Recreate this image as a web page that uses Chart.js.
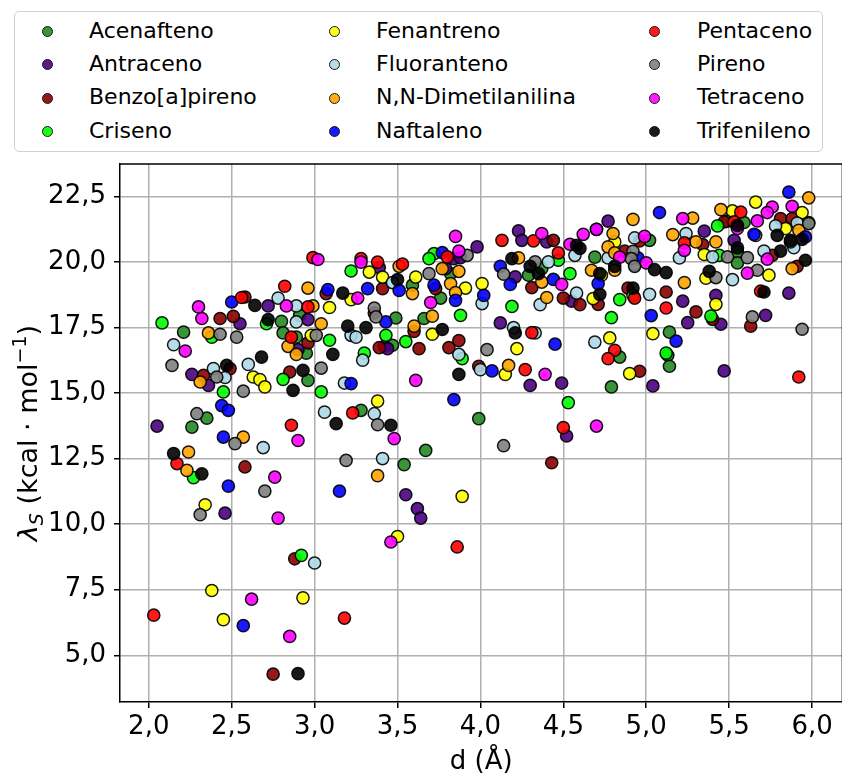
<!DOCTYPE html>
<html>
<head>
  <meta charset="UTF-8" />
  <title>Reorganização vs distância</title>
  <style>
    body { margin: 0; overflow: hidden; background: #fff; font-family: "DejaVu Sans", sans-serif; }
    #wrap { position: absolute; left: 0; top: 0; width: 850px; height: 775px; }
    #legend { position: absolute; left: 14px; top: 11px; width: 809px; height: 141px;
              border: 1.5px solid #d0d0d0; border-radius: 5px; box-sizing: border-box; background: #fff; }
    .item { position: absolute; font-size: 22px; line-height: 22px; color: #000; white-space: nowrap; }
    .dot { position: absolute; width: 11px; height: 11px; border-radius: 50%; border: 1.3px solid #1a1a1a; box-sizing: border-box; }
  </style>
</head>
<body>
  <div id="wrap"><canvas id="chart" width="850" height="775"></canvas></div>
  <div id="legend"></div>
  <script src="https://cdn.jsdelivr.net/npm/chart.js"></script>
  <script>
    // d (Å), lambda_S (kcal/mol)
    const acenafteno = [[2.80,17.73],[2.21,17.32],[2.81,17.29],[2.89,17.13],[2.95,16.52],[2.96,15.48],[2.35,14.04],[2.26,13.70],[2.91,17.96],[3.47,16.82],[3.59,19.11],[3.82,19.55],[3.76,18.62],[3.66,17.84],[3.49,17.86],[3.28,14.34],[3.99,14.02],[3.67,12.81],[3.54,12.27],[4.29,19.49],[4.37,19.74],[4.84,16.37],[4.79,15.23],[5.13,16.44],[5.14,16.02],[4.69,20.18],[5.02,20.82],[5.55,20.38],[5.55,19.96],[5.59,21.50],[5.49,21.55],[5.98,21.50],[5.14,17.32]];
    const antraceno = [[2.72,18.32],[2.55,17.64],[2.96,17.80],[2.90,16.65],[2.26,15.71],[2.36,15.29],[2.05,13.74],[2.46,10.42],[3.39,19.78],[3.42,16.78],[3.44,16.69],[3.79,19.74],[3.84,20.12],[3.88,20.16],[3.98,20.57],[4.23,21.18],[4.25,20.82],[4.40,20.76],[4.21,19.43],[4.12,17.67],[4.55,18.50],[4.30,15.29],[4.49,15.38],[4.52,13.36],[3.55,11.12],[3.62,10.59],[3.64,10.23],[4.77,21.55],[5.35,21.17],[5.53,20.82],[5.22,18.50],[5.25,17.68],[5.42,18.72],[5.45,17.62],[5.72,17.96],[5.86,18.81],[5.04,15.27],[5.47,15.84]];
    const benzoPireno = [[3.07,18.79],[2.58,18.66],[2.43,17.84],[2.51,17.92],[2.96,16.91],[2.33,15.67],[2.49,15.93],[2.85,15.80],[2.58,12.18],[2.88,8.68],[2.75,4.28],[3.39,16.73],[3.63,16.69],[3.81,16.73],[3.87,17.00],[3.99,16.02],[3.41,18.98],[3.73,18.98],[3.36,18.05],[3.60,17.35],[4.44,20.82],[4.31,19.02],[4.50,18.62],[4.60,18.37],[4.43,12.34],[4.96,15.83],[4.87,20.41],[4.96,20.80],[4.89,19.00],[4.71,18.38],[5.12,18.85],[5.30,18.09],[5.34,20.66],[5.40,17.81],[5.63,17.55],[5.76,20.25],[5.81,21.65],[5.88,21.65],[5.91,19.83],[5.47,21.52]];
    const criseno = [[3.22,19.65],[2.08,17.67],[2.71,17.64],[2.38,17.13],[3.09,17.01],[2.45,15.04],[2.81,15.52],[3.04,15.04],[2.27,11.77],[2.92,8.81],[3.30,16.52],[3.55,16.96],[3.89,16.31],[3.72,20.31],[3.69,20.12],[4.19,18.30],[4.47,20.06],[4.54,19.55],[3.88,17.96],[3.43,17.20],[4.53,14.63],[5.12,16.52],[4.84,18.56],[4.92,18.72],[4.79,17.87],[5.43,21.37],[5.44,20.25],[5.39,17.93]];
    const fenantreno = [[3.22,18.56],[3.09,18.26],[2.98,17.20],[2.63,15.61],[2.67,15.51],[2.70,15.23],[2.34,10.74],[2.38,7.47],[2.93,7.19],[2.45,6.36],[3.50,9.53],[3.89,11.06],[3.33,19.61],[3.41,19.42],[3.61,19.42],[3.91,19.00],[4.01,19.17],[3.71,17.24],[3.38,14.69],[4.22,16.69],[4.15,15.71],[4.78,17.10],[4.90,15.74],[4.68,18.60],[4.73,19.49],[4.81,20.76],[5.04,17.26],[5.35,20.28],[5.36,19.38],[5.42,18.38],[5.52,21.94],[5.66,22.28],[5.74,19.49],[5.84,21.27],[5.94,21.88]];
    const fluoranteno = [[2.78,18.62],[2.89,18.32],[2.89,17.71],[3.22,17.20],[3.25,17.13],[2.15,16.84],[2.39,15.93],[2.46,15.59],[2.60,16.09],[3.18,15.38],[2.69,12.92],[3.06,14.27],[3.00,8.52],[3.29,16.25],[3.87,16.47],[4.00,15.89],[3.47,19.21],[3.36,14.21],[3.41,12.50],[4.01,18.41],[4.20,17.49],[4.33,17.29],[4.36,18.37],[4.57,20.25],[4.41,20.00],[4.58,18.81],[4.69,16.94],[4.77,20.15],[4.93,20.91],[4.93,19.90],[5.02,18.76],[5.24,21.08],[5.20,20.15],[5.40,20.19],[5.52,19.32],[5.71,20.41],[5.78,21.37],[5.66,21.01],[5.89,20.54],[5.91,21.48]];
    const dimetilanilina = [[2.96,19.00],[2.99,18.32],[3.04,17.64],[2.36,17.29],[2.84,16.78],[2.89,16.47],[2.31,15.42],[2.57,13.32],[2.24,12.75],[2.23,12.05],[3.38,11.85],[3.51,19.83],[3.77,19.74],[3.87,19.64],[3.82,19.17],[3.85,18.83],[3.59,18.79],[3.60,17.55],[3.71,17.93],[4.17,16.05],[4.23,20.15],[4.37,19.23],[4.40,18.64],[4.67,19.68],[4.77,20.57],[4.80,21.08],[4.81,20.34],[4.81,19.68],[4.92,21.62],[5.16,21.04],[5.28,21.67],[5.30,20.76],[5.42,20.76],[5.23,19.21],[5.45,21.99],[5.88,19.74],[5.92,21.20],[5.98,22.44]];
    const naftaleno = [[3.08,18.94],[2.50,18.47],[3.22,15.36],[2.44,14.52],[2.48,14.34],[2.45,13.32],[2.48,11.45],[3.15,11.26],[2.57,6.13],[4.07,15.84],[4.45,16.86],[3.84,14.75],[3.77,20.35],[3.32,18.98],[3.51,18.91],[3.72,19.11],[4.02,18.72],[3.85,18.53],[3.43,17.71],[4.12,19.83],[4.18,19.14],[4.44,19.33],[5.18,16.98],[5.08,21.88],[4.71,19.17],[4.95,20.15],[5.03,17.95],[4.70,21.24],[5.86,22.66],[5.65,21.05],[5.96,20.95]];
    const pentaceno = [[2.99,20.16],[2.82,19.07],[2.56,18.64],[2.96,18.28],[2.86,17.13],[2.17,12.31],[2.03,6.53],[3.18,6.42],[2.86,13.77],[3.23,14.24],[3.86,9.13],[4.27,15.89],[4.50,13.68],[3.28,20.12],[3.38,19.99],[3.53,19.91],[3.80,20.19],[4.13,20.82],[4.32,20.80],[4.47,20.34],[4.31,17.30],[4.81,16.63],[4.77,16.31],[5.12,18.24],[4.93,18.62],[5.23,20.72],[5.57,21.90],[5.53,21.52],[5.69,18.88],[5.92,15.61]];
    const pireno = [[3.01,17.20],[2.43,17.24],[2.53,17.13],[2.14,16.05],[2.41,15.61],[2.57,15.07],[3.04,15.95],[2.29,14.21],[2.52,13.07],[2.70,11.26],[3.19,12.43],[2.31,10.36],[4.04,16.65],[3.38,13.79],[4.14,12.99],[3.69,19.55],[3.92,20.25],[3.36,18.24],[3.37,17.90],[4.14,19.53],[4.33,20.00],[4.92,20.40],[4.91,20.12],[4.93,19.83],[5.42,19.40],[5.49,20.19],[5.61,20.16],[5.67,19.68],[5.64,17.90],[5.94,17.43],[5.87,20.76],[5.98,21.46]];
    const tetraceno = [[3.02,20.09],[2.83,18.32],[2.30,18.28],[2.32,17.84],[2.22,16.60],[2.90,13.19],[2.76,11.79],[2.78,10.23],[2.62,7.14],[2.85,5.72],[3.46,9.32],[3.61,15.48],[4.39,15.71],[3.48,13.26],[4.70,13.74],[3.85,20.97],[3.87,20.41],[4.37,21.08],[4.62,21.05],[4.54,20.67],[4.49,19.14],[3.70,18.45],[3.28,19.99],[3.26,18.62],[4.70,21.24],[4.99,20.97],[4.84,20.18],[5.00,19.96],[5.22,21.65],[5.23,20.44],[5.55,21.27],[5.67,21.56],[5.76,22.09],[5.73,21.88],[5.88,22.12],[5.61,19.57],[5.73,20.10]];
    const trifenileno = [[3.17,18.81],[2.64,18.34],[2.72,17.80],[3.20,17.55],[2.68,16.37],[2.47,16.05],[2.93,15.86],[2.87,15.10],[3.11,16.47],[3.13,13.83],[2.15,12.69],[2.32,11.92],[2.90,4.30],[3.87,15.71],[3.46,13.77],[3.50,19.32],[3.31,17.49],[3.77,17.42],[4.19,20.12],[4.30,19.83],[4.35,19.55],[4.58,20.63],[4.60,20.51],[4.21,17.29],[4.72,19.55],[4.81,19.83],[4.72,18.76],[4.92,19.00],[5.05,19.70],[5.12,19.59],[5.38,19.64],[5.55,20.53],[5.71,18.85],[5.79,21.01],[5.81,20.41],[5.87,20.82],[5.94,20.86],[5.96,20.06],[5.55,21.39]];

    const seriesNames = ['Acenafteno', 'Antraceno', 'Benzo[a]pireno', 'Criseno', 'Fenantreno', 'Fluoranteno',
                         'N,N-Dimetilanilina', 'Naftaleno', 'Pentaceno', 'Pireno', 'Tetraceno', 'Trifenileno'];
    const seriesData = [acenafteno, antraceno, benzoPireno, criseno, fenantreno, fluoranteno,
                        dimetilanilina, naftaleno, pentaceno, pireno, tetraceno, trifenileno];
    const seriesColors = ['rgba(34,139,34,0.9)', 'rgba(75,0,130,0.9)', 'rgba(139,0,0,0.9)', 'rgba(0,255,0,0.9)',
                          'rgba(255,255,0,0.9)', 'rgba(173,216,230,0.9)', 'rgba(255,165,0,0.9)', 'rgba(0,0,255,0.9)',
                          'rgba(255,0,0,0.9)', 'rgba(128,128,128,0.9)', 'rgba(255,0,255,0.9)', 'rgba(0,0,0,0.9)'];
    const xTicks = [2.0, 2.5, 3.0, 3.5, 4.0, 4.5, 5.0, 5.5, 6.0];
    const yTicks = [5.0, 7.5, 10.0, 12.5, 15.0, 17.5, 20.0, 22.5];

    const fmt = v => v.toFixed(1).replace('.', ',');
    const font = { family: 'DejaVu Sans', size: 26 };

    // legend in three columns, filled top to bottom
    const legend = document.getElementById('legend');
    const dotX = [32, 319, 639], textX = [74, 361, 682];
    seriesNames.forEach((name, i) => {
      const col = Math.floor(i / 4), row = i % 4;
      const cy = 19.5 + row * 33.4;
      const dot = document.createElement('div');
      dot.className = 'dot';
      dot.style.left = (dotX[col] - 5.5) + 'px';
      dot.style.top = (cy - 5.5) + 'px';
      dot.style.background = seriesColors[i];
      legend.appendChild(dot);
      const label = document.createElement('div');
      label.className = 'item';
      label.textContent = name;
      label.style.left = textX[col] + 'px';
      label.style.top = (cy - 12) + 'px';
      legend.appendChild(label);
    });

    const frame = {
      id: 'frame',
      afterDatasetsDraw(chart) {
        const { ctx, chartArea: a } = chart;
        ctx.save();
        ctx.strokeStyle = '#000';
        ctx.lineWidth = 1.5;
        ctx.beginPath();
        ctx.moveTo(a.left, a.top);
        ctx.lineTo(a.right, a.top);
        ctx.lineTo(a.right, a.bottom);
        ctx.stroke();
        ctx.restore();
      }
    };

    const yTitle = {
      id: 'yTitle',
      afterDraw(chart) {
        const { ctx, chartArea: a } = chart;
        const parts = [
          { t: 'λ', f: 'italic 27px "DejaVu Sans"', dy: 0 },
          { t: 'S', f: 'italic 19px "DejaVu Sans"', dy: 6 },
          { t: ' (kcal · mol', f: '27px "DejaVu Sans"', dy: 0 },
          { t: '−1', f: '19px "DejaVu Sans"', dy: -11 },
          { t: ')', f: '27px "DejaVu Sans"', dy: 0 }
        ];
        ctx.save();
        ctx.fillStyle = '#000';
        ctx.textBaseline = 'alphabetic';
        let total = 0;
        parts.forEach(p => { ctx.font = p.f; p.w = ctx.measureText(p.t).width; total += p.w; });
        ctx.translate(27, (a.top + a.bottom) / 2);
        ctx.rotate(-Math.PI / 2);
        let x = -total / 2;
        parts.forEach(p => { ctx.font = p.f; ctx.fillText(p.t, x, 10 + p.dy); x += p.w; });
        ctx.restore();
      }
    };

    new Chart(document.getElementById('chart'), {
      type: 'scatter',
      data: {
        datasets: seriesNames.map((name, i) => ({
          label: name,
          data: seriesData[i].map(([x, y]) => ({ x, y })),
          backgroundColor: seriesColors[i],
          borderColor: 'rgba(0,0,0,0.9)',
          borderWidth: 1.5,
          pointRadius: 6.1,
          order: seriesNames.length - i
        }))
      },
      options: {
        responsive: false,
        animation: false,
        devicePixelRatio: 1,
        layout: { padding: { top: 164, right: 2, bottom: 0, left: 0 } },
        plugins: { legend: { display: false }, tooltip: { enabled: false } },
        scales: {
          x: {
            type: 'linear',
            min: 1.8265,
            max: 6.183,
            afterBuildTicks: s => { s.ticks = xTicks.map(v => ({ value: v })); },
            afterFit: s => { s.height = 73; },
            ticks: { font, color: '#000', padding: 4, callback: v => fmt(v), maxRotation: 0 },
            grid: { color: '#b0b0b0', lineWidth: 1.5, tickColor: '#000', tickLength: 6, tickWidth: 1.5 },
            border: { color: '#000', width: 1.5 },
            title: { display: true, text: 'd (Å)', color: '#000', font: { family: 'DejaVu Sans', size: 26, lineHeight: 1 }, padding: 0 }
          },
          y: {
            type: 'linear',
            min: 3.22,
            max: 23.73,
            afterBuildTicks: s => { s.ticks = yTicks.map(v => ({ value: v })); },
            afterFit: s => { s.width = 120; },
            ticks: { font, color: '#000', padding: 8, callback: v => fmt(v) },
            grid: { color: '#b0b0b0', lineWidth: 1.5, tickColor: '#000', tickLength: 6, tickWidth: 1.5 },
            border: { color: '#000', width: 1.5 }
          }
        }
      },
      plugins: [frame, yTitle]
    });
  </script>
</body>
</html>
